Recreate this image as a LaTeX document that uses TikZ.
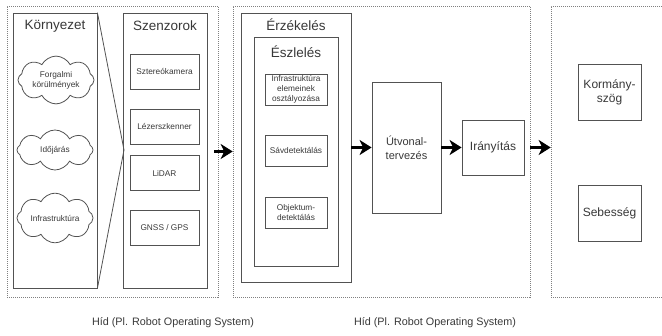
\documentclass[tikz,border=0pt]{standalone}
\usepackage{fontspec}
\setmainfont{Liberation Sans}
\usetikzlibrary{shapes.symbols,arrows.meta}

\tikzset{
  every node/.style={text=black!78},
  frame/.style={draw=black!50, dash pattern=on 1pt off 1pt, line width=0.6pt,
                rectangle, inner sep=0pt},
  panel/.style={draw=black!68, line width=0.8pt, rectangle, inner sep=0pt},
  title/.style={font=\fontsize{13.5}{16}\selectfont, inner sep=0pt},
  smallbox/.style={panel, font=\fontsize{8.3}{10}\selectfont, align=center},
  midbox/.style={panel, font=\fontsize{12}{14}\selectfont, align=center},
  cloudnode/.style={cloud, cloud puffs=8, cloud puff arc=125, aspect=1.9,
                    draw=black!68, line width=0.8pt, inner sep=0pt,
                    minimum width=76pt, minimum height=40pt,
                    font=\fontsize{8.3}{10}\selectfont, align=center},
  flow/.style={line width=2.6pt, -{Stealth[length=12pt, width=15pt, inset=3.5pt]}},
  bridge/.style={font=\fontsize{10.8}{13}\selectfont, inner sep=0pt}
}

\begin{document}
\begin{tikzpicture}[x=1pt, y=-1pt]
\useasboundingbox (0,0) rectangle (662,336);

% --- first group: environment and sensors
\node[frame, minimum width=211pt, minimum height=291pt] (grpA) at (112.5,151.5) {};
\node[panel, minimum width=84pt, minimum height=275pt] (env) at (55,150.5) {};
\node[panel, minimum width=84pt, minimum height=275pt] (sens) at (165,150.5) {};
\node[title] (envT) at (55,26) {Környezet};
\node[title] (sensT) at (165,26) {Szenzorok};

\node[cloudnode] (traffic) at (56,80) {Forgalmi\\körülmények};
\node[cloudnode] (weather) at (55,150) {Időjárás};
\node[cloudnode] (infra) at (55,218) {Infrastruktúra};

\node[smallbox, minimum width=69pt, minimum height=35pt] (cam) at (164.5,71.5) {Sztereókamera};
\node[smallbox, minimum width=69pt, minimum height=35pt] (laser) at (164.5,126.5) {Lézerszkenner};
\node[smallbox, minimum width=69pt, minimum height=35pt] (lidar) at (164.5,173) {LiDAR};
\node[smallbox, minimum width=69pt, minimum height=35pt] (gnss) at (164.5,227.5) {GNSS / GPS};

\coordinate (focus) at (124,150);
\draw[black!68, line width=0.8pt] (env.north east) -- (focus) -- (env.south east);

% --- second group: perception and planning
\node[frame, minimum width=297pt, minimum height=291pt] (grpB) at (381.5,151.5) {};
\node[panel, minimum width=110pt, minimum height=269pt] (sense) at (296,147.5) {};
\node[title] (senseT) at (296,25) {Érzékelés};
\node[panel, minimum width=84pt, minimum height=229pt] (percep) at (296,151.5) {};
\node[title] (percepT) at (296,52) {Észlelés};

\node[smallbox, minimum width=62pt, minimum height=31pt] (classify) at (296,89.5)
  {Infrastruktúra\\elemeinek\\osztályozása};
\node[smallbox, minimum width=62pt, minimum height=31pt] (lane) at (296,150.5) {Sávdetektálás};
\node[smallbox, minimum width=62pt, minimum height=31pt] (obj) at (296,212.5)
  {Objektum-\\detektálás};

\node[panel, minimum width=69pt, minimum height=131pt, align=center,
      font=\fontsize{11}{14}\selectfont] (route) at (406.5,147.5) {Útvonal-\\tervezés};
\node[midbox, minimum width=62pt, minimum height=55pt] (ctrl) at (493,147.5) {Irányítás};

% --- third group: outputs
\node[frame, minimum width=140pt, minimum height=291pt] (grpC) at (621,151.5) {};
\node[midbox, minimum width=63pt, minimum height=56pt] (steer) at (609.5,92) {Kormány-\\szög};
\node[midbox, minimum width=63pt, minimum height=56pt] (speed) at (609.5,213) {Sebesség};

% --- data flow
\coordinate (outA) at (214,151.5);
\draw[flow] (outA) -- (grpB.west);
\draw[flow] (sense.east) -- (route.west);
\draw[flow] (route.east) -- (ctrl.west);
\draw[flow] (grpB.east |- ctrl) -- (grpC.west |- ctrl);

% --- bridge labels
\node[bridge] (bridgeA) at (173,323) {Híd (Pl. Robot Operating System)};
\node[bridge] (bridgeB) at (435,323) {Híd (Pl. Robot Operating System)};
\end{tikzpicture}
\end{document}
